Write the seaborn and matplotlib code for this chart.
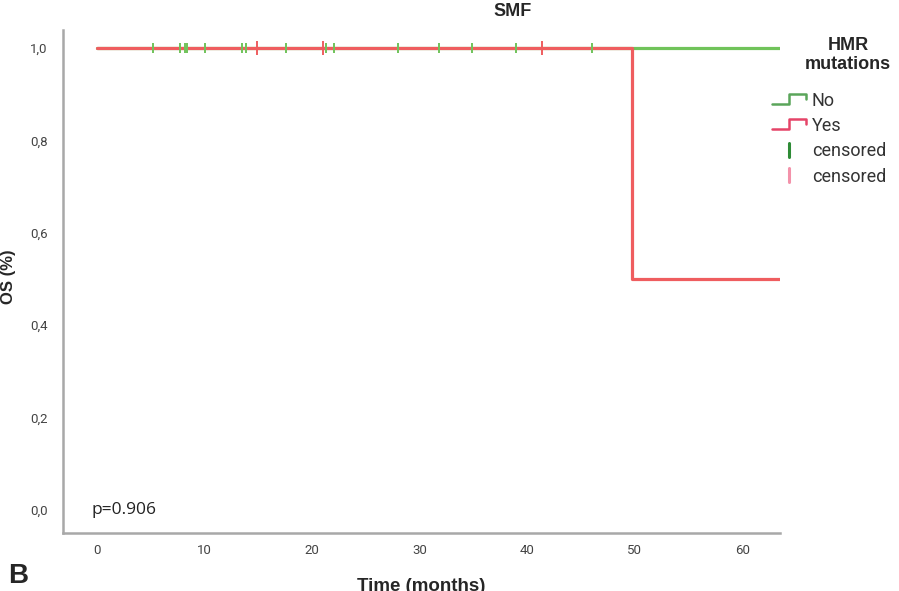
import matplotlib
matplotlib.use("Agg")
import matplotlib.pyplot as plt
from matplotlib.legend_handler import HandlerBase
from matplotlib.lines import Line2D
import seaborn as sns
import pandas as pd

# ---------------- data ----------------
groups = ["No", "Yes"]
# step curves (time in months, survival proportion)
no_times = [0.0, 63.5]
no_surv = [1.0, 1.0]
yes_times = [0.0, 49.7, 63.5]
yes_surv = [1.0, 0.5, 0.5]
# censored observations
no_censored = [5.2, 7.7, 8.2, 8.4, 10.0, 13.5, 13.9, 17.6, 21.3, 22.0,
               28.0, 31.8, 34.9, 39.0, 46.0]
yes_censored = [14.9, 21.0, 41.4]
x_ticks = [0, 10, 20, 30, 40, 50, 60]
y_ticks = [0.0, 0.2, 0.4, 0.6, 0.8, 1.0]
y_tick_labels = ["0,0", "0,2", "0,4", "0,6", "0,8", "1,0"]
p_text = "p=0.906"

# ---------------- styles ----------------
C_NO = "#70c35a"
C_YES = "#ef5d5f"
C_NO_LEG = "#5aa55a"
C_YES_LEG = "#e54468"
C_NO_CENS = "#2e8b36"
C_YES_CENS = "#f392aa"

sns.set_theme(style="white")
plt.rcParams["font.family"] = ["Liberation Sans", "DejaVu Sans"]

curves = pd.concat([
    pd.DataFrame({"time": no_times, "surv": no_surv, "group": groups[0]}),
    pd.DataFrame({"time": yes_times, "surv": yes_surv, "group": groups[1]}),
])
cens_no = pd.DataFrame({"time": no_censored, "surv": [1.0] * len(no_censored)})
cens_yes = pd.DataFrame({"time": yes_censored, "surv": [1.0] * len(yes_censored)})

fig = plt.figure(figsize=(8.99, 5.91), dpi=100)
ax = fig.add_axes([63 / 899, 1 - 533 / 591, (780 - 63) / 899, (533 - 30) / 591])

sns.lineplot(data=curves, x="time", y="surv", hue="group", hue_order=groups,
             palette={groups[0]: C_NO, groups[1]: C_YES}, drawstyle="steps-post",
             linewidth=2.3, estimator=None, sort=False, legend=False, ax=ax)
sns.scatterplot(data=cens_no, x="time", y="surv", marker="|", s=60,
                color=C_NO, linewidth=1.4, legend=False, ax=ax, zorder=5)
sns.scatterplot(data=cens_yes, x="time", y="surv", marker="|", s=110,
                color=C_YES, linewidth=1.4, legend=False, ax=ax, zorder=5)

ax.set_xlim(-3.16, 63.5)
ax.set_ylim(-0.0498, 1.039)
ax.set_xticks(x_ticks)
ax.set_xticklabels([str(t) for t in x_ticks], family="Roboto", fontsize=9.5, color="#444444")
ax.set_yticks(y_ticks)
ax.set_yticklabels(y_tick_labels, family="Roboto", fontsize=9.5, color="#444444")
ax.tick_params(axis="both", length=0)
ax.tick_params(axis="y", pad=11)
ax.tick_params(axis="x", pad=8)
for s in ["top", "right"]:
    ax.spines[s].set_visible(False)
for s in ["left", "bottom"]:
    ax.spines[s].set_color("#a8a8a8")
    ax.spines[s].set_linewidth(1.8)

ax.set_xlabel("Time (months)", fontsize=13.5, fontweight="bold", labelpad=15)
ax.set_ylabel("OS (%)", fontsize=12, fontweight="bold")
ax.yaxis.set_label_coords((16 - 63) / 717, (533 - 277) / 503)
ax.text(-0.5, 0.0, p_text, family="Open Sans", fontsize=12.5, color="#222222",
        va="center", ha="left")

fig.text(513 / 899, 1 - 11 / 591, "SMF", fontsize=13, fontweight="bold",
         ha="center", va="center")
fig.text(8 / 899, 1 - 576 / 591, "B", fontsize=20, fontweight="bold",
         ha="left", va="center")
fig.text(848 / 899, 1 - 55 / 591, "HMR\nmutations", fontsize=13, fontweight="bold",
         ha="center", va="center", linespacing=1.1)


class StepHandler(HandlerBase):
    def create_artists(self, legend, orig_handle, xdescent, ydescent, width,
                       height, fontsize, trans):
        w, h = width, height
        xs = [-xdescent, -xdescent + 0.5 * w, -xdescent + 0.5 * w, -xdescent + w, -xdescent + w]
        ys = [-ydescent + 0.15 * h, -ydescent + 0.15 * h, -ydescent + 0.95 * h,
              -ydescent + 0.95 * h, -ydescent + 0.55 * h]
        ln = Line2D(xs, ys, color=orig_handle.get_color(), linewidth=1.8)
        ln.set_transform(trans)
        return [ln]


class BarHandler(HandlerBase):
    def create_artists(self, legend, orig_handle, xdescent, ydescent, width,
                       height, fontsize, trans):
        x = -xdescent + 0.5 * width
        ln = Line2D([x, x], [-ydescent - 0.05 * height, -ydescent + 1.05 * height],
                    color=orig_handle.get_color(), linewidth=2.2)
        ln.set_transform(trans)
        return [ln]


h_no = Line2D([], [], color=C_NO_LEG)
h_yes = Line2D([], [], color=C_YES_LEG)
h_cn = Line2D([], [], color=C_NO_CENS)
h_cy = Line2D([], [], color=C_YES_CENS)
leg = fig.legend([h_no, h_yes, h_cn, h_cy], [groups[0], groups[1], "censored", "censored"],
                 handler_map={h_no: StepHandler(), h_yes: StepHandler(),
                              h_cn: BarHandler(), h_cy: BarHandler()},
                 loc="upper left", bbox_to_anchor=(772 / 899, 1 - 92 / 591),
                 frameon=False, borderpad=0, borderaxespad=0, handlelength=1.9,
                 handletextpad=0.3, labelspacing=0.4,
                 prop={"family": "Roboto", "size": 13})
for t in leg.get_texts():
    t.set_color("#333333")

fig.savefig("out.png", dpi=100)
